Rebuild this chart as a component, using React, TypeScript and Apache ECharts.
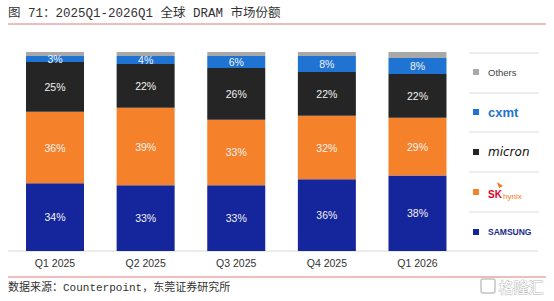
import React, { useEffect, useRef } from "react";
import * as echarts from "echarts";

const quarters = ["Q1 2025", "Q2 2025", "Q3 2025", "Q4 2025", "Q1 2026"];
const samsung = [34, 33, 33, 36, 38];
const skHynix = [36, 39, 33, 32, 29];
const micron = [25, 22, 26, 22, 22];
const cxmt = [3, 4, 6, 8, 8];
const others = [2, 2, 2, 2, 3];

const title = "图 71：2025Q1-2026Q1 全球 DRAM 市场份额";
const source = "数据来源：Counterpoint，东莞证券研究所";

const C_SAMSUNG = "#15259c";
const C_HYNIX = "#f5822a";
const C_MICRON = "#252525";
const C_CXMT = "#1f74d3";
const C_OTHERS = "#a8a8a8";

export default function App() {
  const ref = useRef<HTMLDivElement>(null);
  useEffect(() => {
    const chart = echarts.init(ref.current!, undefined, { renderer: "svg" });
    const label = {
      show: true,
      position: "inside",
      formatter: "{c}%",
      color: "#f2f2f2",
      fontSize: 10.5,
      fontFamily: "Liberation Sans, Arial, sans-serif",
    };
    const mk = (name: string, data: number[], color: string, showLabel = true) => ({
      name,
      type: "bar",
      stack: "total",
      data,
      barWidth: 58,
      itemStyle: { color },
      label: showLabel ? label : { show: false },
    });
    const sepYs = [53, 93, 132, 172, 212];
    const itemYs = [72, 112, 152, 192, 232];
    const legendColors = [C_OTHERS, C_CXMT, C_MICRON, C_HYNIX, C_SAMSUNG];
    const graphic: any[] = [
      {
        type: "text",
        left: 8,
        top: 8,
        style: {
          text: title,
          fontSize: 12.5,
          fill: "#333",
          fontFamily: "Liberation Mono, Noto Sans CJK SC, monospace",
        },
      },
      { type: "line", shape: { x1: 8, y1: 24, x2: 546, y2: 24 }, style: { stroke: "#e07a7a", lineWidth: 1 } },
      { type: "line", shape: { x1: 8, y1: 251, x2: 538, y2: 251 }, style: { stroke: "#d6d6d6", lineWidth: 1 } },
      { type: "line", shape: { x1: 8, y1: 277, x2: 546, y2: 277 }, style: { stroke: "#e07a7a", lineWidth: 1 } },
      {
        type: "text",
        left: 8,
        top: 282,
        style: {
          text: source,
          fontSize: 11,
          fill: "#333",
          fontFamily: "Liberation Mono, Noto Sans CJK SC, monospace",
        },
      },
      // watermark bottom right
      { type: "rect", shape: { x: 481, y: 279, width: 14, height: 14, r: 2 }, style: { fill: "none", stroke: "#c4c4c4", lineWidth: 1.5 } },
      {
        type: "text",
        left: 498,
        top: 278,
        style: { text: "格隆汇", fontSize: 15, fill: "#fff", stroke: "#bdbdbd", lineWidth: 1, fontFamily: "Noto Sans CJK SC" },
      },
    ];
    sepYs.forEach((y) =>
      graphic.push({ type: "line", shape: { x1: 469, y1: y, x2: 539, y2: y }, style: { stroke: "#dcdcdc", lineWidth: 1 } })
    );
    itemYs.forEach((y, i) =>
      graphic.push({ type: "rect", shape: { x: 473, y: y - 3, width: 6, height: 6 }, style: { fill: legendColors[i] } })
    );
    graphic.push(
      { type: "text", x: 488, y: 72, style: { text: "Others", fontSize: 9.5, fill: "#444", verticalAlign: "middle", fontFamily: "Liberation Sans, Arial" } },
      { type: "text", x: 488, y: 112, style: { text: "cxmt", fontSize: 13, fontWeight: "bold", fill: C_CXMT, verticalAlign: "middle", fontFamily: "Liberation Sans, Arial" } },
      { type: "text", x: 488, y: 152, style: { text: "micron", fontSize: 12, fontStyle: "italic", fill: "#111", verticalAlign: "middle", fontFamily: "DejaVu Sans, Arial" } },
      { type: "text", x: 488, y: 194, style: { text: "SK", fontSize: 10, fontWeight: "bold", fill: "#e4002b", verticalAlign: "middle", fontFamily: "Liberation Sans, Arial" } },
      { type: "text", x: 503, y: 196, style: { text: "hynix", fontSize: 8, fill: "#f47920", verticalAlign: "middle", fontFamily: "Liberation Sans, Arial" } },
      { type: "polygon", shape: { points: [[497, 182], [503, 186], [499, 188]] }, style: { fill: "#f47920" } },
      { type: "text", x: 488, y: 232, style: { text: "SAMSUNG", fontSize: 8.5, fontWeight: "bold", fill: "#1a2b8f", verticalAlign: "middle", fontFamily: "Liberation Sans, Arial" } }
    );

    chart.setOption({
      animation: false,
      grid: { left: 9.7, right: 91.2, top: 52, bottom: 50 },
      xAxis: {
        type: "category",
        data: quarters,
        axisLine: { show: false },
        axisTick: { show: false },
        axisLabel: { color: "#333", fontSize: 10.5, margin: 6, fontFamily: "Liberation Sans, Arial, sans-serif" },
      },
      yAxis: { type: "value", min: 0, max: 100, show: false, splitLine: { show: false } },
      series: [
        mk("Samsung", samsung, C_SAMSUNG),
        mk("SK hynix", skHynix, C_HYNIX),
        mk("Micron", micron, C_MICRON),
        mk("CXMT", cxmt, C_CXMT),
        mk("Others", others, C_OTHERS, false),
      ],
      graphic,
    });
    return () => chart.dispose();
  }, []);
  return <div ref={ref} style={{ width: 554, height: 301, position: "absolute", left: 0, top: 0 }} />;
}
